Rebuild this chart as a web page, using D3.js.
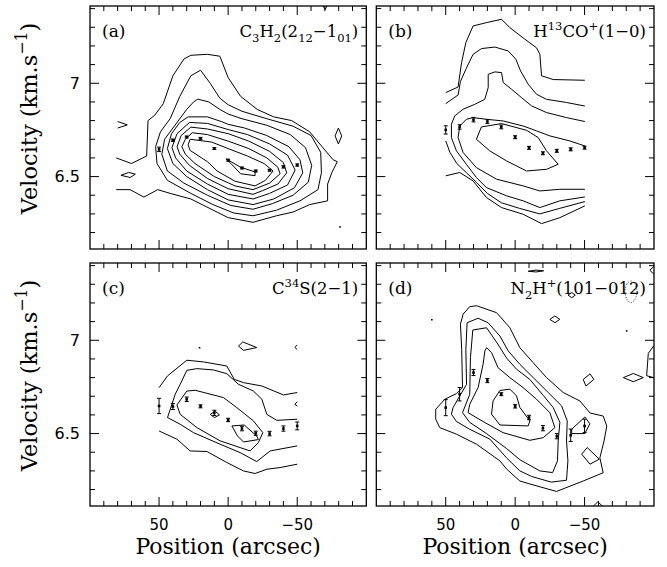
<!DOCTYPE html>
<html><head><meta charset="utf-8">
<script src="https://cdn.jsdelivr.net/npm/d3@7"></script>
<style>html,body{margin:0;padding:0;background:#fff;} svg{display:block;}</style>
</head><body>
<svg id="chart" width="667" height="567"></svg>
<script>
// ================= DATA =================
const positions = [50, 40, 30, 20, 10, 0, -10, -20, -30, -40, -50];

const velA = [6.646, 6.695, 6.712, 6.705, 6.650, 6.588, 6.546, 6.530, 6.534, 6.552, 6.562];
const errA = [0.012, 0.006, 0.005, 0.005, 0.005, 0.005, 0.005, 0.005, 0.005, 0.006, 0.006];
const velB = [6.750, 6.766, 6.805, 6.795, 6.766, 6.711, 6.654, 6.625, 6.638, 6.646, 6.655];
const errB = [0.022, 0.012, 0.012, 0.010, 0.010, 0.008, 0.008, 0.008, 0.008, 0.008, 0.008];
const velC = [6.648, 6.645, 6.684, 6.646, 6.611, 6.573, 6.527, 6.502, 6.500, 6.527, 6.541];
const errC = [0.041, 0.016, 0.012, 0.008, 0.014, 0.009, 0.012, 0.011, 0.012, 0.014, 0.021];
const velD = [6.639, 6.711, 6.827, 6.784, 6.711, 6.646, 6.586, 6.529, 6.486, 6.491, 6.541];
const errD = [0.043, 0.036, 0.016, 0.011, 0.008, 0.009, 0.012, 0.014, 0.014, 0.033, 0.036];

const xTickLabels = [50, 0, -50];
const yTickLabels = [6.5, 7];

// contour polylines in (position arcsec, velocity km/s); closed = loop
const contoursA = [
  {closed:false, pts:[[81,6.60],[70,6.57],[59,6.61],[58,6.80],[53,6.83],[47,6.89],[40,7.04],[32,7.13],[27,7.15],[15,7.155],[6,7.145],[0,7.03],[-9,6.93],[-21,6.86],[-33,6.82],[-46,6.80],[-59,6.74],[-68,6.66],[-76,6.59],[-79,6.58],[-75,6.52],[-72,6.46],[-72,6.37],[-59,6.35],[-47,6.31],[-35,6.29],[-18,6.255],[0,6.28],[27,6.38],[42,6.41],[51,6.43],[61,6.39],[71,6.43],[81,6.43]]},
  {closed:true, pts:[[20,7.07],[13,7.0],[6,6.92],[0,6.885],[-10,6.85],[-28,6.81],[-47,6.77],[-60,6.72],[-67,6.63],[-67.5,6.52],[-65,6.43],[-52,6.37],[-35,6.32],[-18,6.29],[-4,6.305],[11,6.35],[27,6.41],[44,6.48],[51.5,6.57],[52.5,6.66],[49,6.74],[42,6.81],[35,6.93],[27,7.04]]},
  {closed:true, pts:[[22,6.915],[14,6.90],[6,6.86],[0,6.835],[-10,6.81],[-28,6.775],[-45,6.725],[-56,6.655],[-60.5,6.56],[-58,6.47],[-47,6.40],[-32,6.355],[-18,6.325],[-2,6.345],[15,6.40],[32,6.465],[44,6.53],[48,6.62],[46,6.70],[39,6.77],[30,6.86],[25,6.90]]},
  {closed:true, pts:[[29,6.82],[15,6.82],[5,6.795],[0,6.78],[-12,6.76],[-28,6.72],[-44,6.66],[-52,6.59],[-54,6.52],[-48,6.44],[-33,6.38],[-18,6.35],[0,6.375],[15,6.43],[30,6.50],[40,6.57],[44,6.65],[41,6.73],[35,6.79]]},
  {closed:true, pts:[[28,6.79],[15,6.785],[0,6.752],[-14,6.725],[-30,6.675],[-43,6.615],[-48.5,6.535],[-43,6.455],[-30,6.41],[-18,6.38],[0,6.405],[15,6.46],[30,6.53],[38,6.60],[40.7,6.655],[37,6.73]]},
  {closed:true, pts:[[27,6.765],[15,6.755],[0,6.73],[-15,6.69],[-30,6.635],[-40,6.575],[-42.4,6.52],[-36,6.46],[-25,6.425],[-18,6.405],[0,6.435],[15,6.49],[28,6.56],[35,6.62],[37,6.66],[34,6.72]]},
  {closed:true, pts:[[26,6.735],[15,6.725],[0,6.69],[-15,6.65],[-28,6.60],[-36,6.55],[-37.6,6.515],[-30,6.465],[-18,6.43],[-5,6.45],[10,6.50],[24,6.57],[31,6.62],[33.5,6.66],[31,6.70]]},
  {closed:true, pts:[[27.5,6.70],[12,6.685],[0,6.65],[-14,6.61],[-26,6.57],[-32.5,6.53],[-27,6.48],[-19.5,6.45],[-5,6.475],[8,6.53],[15,6.58],[27.5,6.64],[29,6.67]]},
  {closed:true, pts:[[1.5,6.595],[-2,6.57],[-9,6.515],[-19.5,6.505],[-19.5,6.525],[-9,6.55]]},
  {closed:false, pts:[[80,6.795],[73,6.777],[80,6.76]]},
  {closed:true, pts:[[77.6,6.507],[72,6.522],[67.2,6.513],[70.9,6.495]]},
  {closed:true, pts:[[-77.4,6.718],[-79.8,6.76],[-82.2,6.718],[-79.8,6.675]]},
  {closed:false, pts:[[-68.3,7.42],[-70.2,7.395],[-71.9,7.42]]}
];
const dotsA = [[-81, 6.23]];

const contoursB = [
  {closed:false, pts:[[50,6.95],[41.1,6.98],[38.6,7.11],[35.5,7.218],[30.3,7.307],[20.6,7.325],[9.8,7.343],[3.8,7.298],[-7,7.236],[-15.4,7.19],[-17.8,7.155],[-19,7.04],[-27.4,7.02],[-50.2,7.016]]},
  {closed:false, pts:[[50,6.891],[41.1,6.937],[39.4,7.009],[35.5,7.075],[30.3,7.155],[24.2,7.186],[14.6,7.194],[5,7.173],[-0.5,7.129],[-3.9,7.066],[-9.4,6.995],[-15.4,6.941],[-22.6,6.914],[-37,6.897],[-50.2,6.878]]},
  {closed:false, pts:[[-50.2,6.795],[-37,6.816],[-22.6,6.843],[-11.8,6.879],[-4.6,6.923],[2.6,6.968],[8.6,7.004],[9.8,7.057],[14.6,7.061],[19.4,7.048],[19.4,6.977],[21.9,6.914],[29.1,6.887],[37.5,6.861],[43.5,6.825],[45.9,6.78],[45.9,6.709],[42.3,6.638],[35.1,6.566],[27.9,6.495],[20.7,6.441],[6.2,6.397],[-5.8,6.37],[-17.8,6.334],[-32.2,6.37],[-50.2,6.391]]},
  {closed:false, pts:[[-50.2,6.664],[-39.4,6.691],[-25,6.718],[-15.4,6.745],[-5.8,6.771],[8.6,6.798],[20.7,6.807],[30.3,6.816],[35.1,6.807],[39.9,6.771],[41.1,6.709],[37.5,6.629],[27.9,6.548],[13.4,6.486],[-5.8,6.45],[-17.8,6.423],[-32.2,6.432],[-50.2,6.432]]},
  {closed:true, pts:[[27.9,6.70],[24.3,6.766],[9.8,6.784],[-8.2,6.748],[-16.6,6.709],[-22.6,6.638],[-31,6.566],[-22.6,6.539],[-8.2,6.53],[6.2,6.584],[18.3,6.638]]},
  {closed:false, pts:[[50,6.691],[47,6.63],[42,6.57],[35,6.52],[28,6.47],[20,6.41],[10,6.36],[-3,6.33],[-17.8,6.30],[-32.2,6.33],[-50.2,6.366]]},
  {closed:false, pts:[[50,6.504],[39.9,6.522],[30.3,6.477],[20.7,6.388],[9.8,6.334],[-5.8,6.298],[-19,6.248],[-32.2,6.28],[-50.2,6.343]]}
];
const dotsB = [];

const contoursC = [
  {closed:false, pts:[[50,6.746],[43.9,6.809],[29.9,6.893],[17.8,6.884],[0.95,6.862],[-4.4,6.791],[-11.1,6.773],[-24.4,6.755],[-40,6.707],[-50,6.72]]},
  {closed:false, pts:[[50,6.514],[37.1,6.47],[27.5,6.407],[15.4,6.404],[0.95,6.345],[-11.1,6.30],[-19.5,6.286],[-28,6.309],[-37.6,6.318],[-50,6.336]]},
  {closed:false, pts:[[-50,6.577],[-35.2,6.571],[-28,6.603],[-24.4,6.684],[-18.3,6.728],[-7.5,6.764],[0.95,6.821],[10.6,6.841],[22.6,6.848],[29.9,6.839],[34.7,6.764],[38.3,6.711],[43.9,6.586],[34.7,6.55],[25.1,6.505],[5.8,6.443],[-8.7,6.398],[-20.7,6.35],[-30.4,6.407],[-50,6.434]]},
  {closed:true, pts:[[37.1,6.653],[29.9,6.728],[23.8,6.732],[3.4,6.693],[-6.3,6.639],[-18.3,6.568],[-25.1,6.505],[-21.9,6.452],[-15.9,6.407],[5.8,6.461],[22.6,6.532],[34.7,6.603]]},
  {closed:true, pts:[[13,6.603],[9.4,6.62],[6.3,6.60],[9.9,6.586]]},
  {closed:true, pts:[[-2.7,6.541],[-11.6,6.546],[-20.7,6.487],[-21.9,6.468],[-11.1,6.455],[-6.8,6.487]]},
  {closed:true, pts:[[-7.5,6.969],[-10.6,6.991],[-20.7,6.961],[-11.1,6.946]]},
  {closed:false, pts:[[-50,6.975],[-48.3,6.962],[-50,6.95]]},
  {closed:false, pts:[[-50,6.671],[-48.3,6.657],[-50,6.648]]}
];
const dotsC = [[20.7, 6.96]];

const contoursD = [
  {closed:true, pts:[[37.5,7.14],[32.7,7.18],[27.8,7.185],[13.4,7.148],[3.8,7.067],[-3.4,6.96],[-13,6.88],[-22.6,6.80],[-34.6,6.72],[-46.6,6.675],[-54,6.61],[-63.4,6.594],[-66,6.54],[-64,6.46],[-61,6.37],[-63.4,6.29],[-49,6.246],[-29.8,6.19],[-10.6,6.23],[-3.4,6.246],[6.2,6.31],[11,6.354],[27.8,6.443],[42.3,6.497],[54.3,6.532],[57.2,6.577],[57.2,6.63],[50.7,6.684],[42.3,6.714],[37.9,6.746],[38.5,6.95],[39.4,7.086]]},
  {closed:true, pts:[[34.6,7.094],[26.7,7.118],[19.5,7.094],[11,7.023],[5,6.943],[-3.4,6.871],[-13,6.80],[-23.8,6.72],[-33.5,6.648],[-37.5,6.568],[-37,6.46],[-38,6.354],[-37,6.25],[-26,6.24],[-12,6.27],[-3.4,6.30],[6.2,6.37],[18.2,6.47],[32.7,6.523],[42.3,6.565],[45.9,6.604],[44.7,6.64],[35,6.764],[35.5,6.95]]},
  {closed:true, pts:[[30.5,7.055],[20.6,7.067],[13.4,6.99],[6.2,6.905],[-1,6.845],[-10.6,6.79],[-20.2,6.705],[-27.4,6.64],[-32.2,6.56],[-31,6.461],[-30.5,6.354],[-27,6.291],[-17.8,6.30],[-3.4,6.36],[6.2,6.42],[20.6,6.50],[32.7,6.56],[37.9,6.612],[32.7,6.71],[32.2,6.907]]},
  {closed:true, pts:[[20.6,6.96],[17,6.934],[12.3,6.853],[3.8,6.80],[-5.8,6.746],[-15.4,6.684],[-25,6.612],[-28.6,6.532],[-20.2,6.478],[-10.6,6.464],[8.7,6.505],[21.8,6.559],[33.9,6.612],[32.7,6.657],[26.7,6.746],[23.1,6.871],[21.8,6.943]]},
  {closed:true, pts:[[11,6.731],[3.8,6.738],[-1,6.702],[-3.4,6.64],[-10.6,6.568],[-9.4,6.541],[11,6.546],[17,6.604],[15.9,6.675]]},
  {closed:true, pts:[[-40.7,6.523],[-50.2,6.589],[-53.8,6.553],[-50.2,6.50],[-40.7,6.50]]},
  {closed:true, pts:[[-47.9,6.39],[-51.9,6.425],[-60.6,6.363],[-53.9,6.336]]},
  {closed:true, pts:[[-9.4,7.37],[-15,7.376],[-20.5,7.372],[-15,7.366]]},
  {closed:true, pts:[[-38.1,7.242],[-40.7,7.256],[-43.3,7.242],[-40.7,7.228]]},
  {closed:true, pts:[[-25,7.112],[-28.6,7.13],[-32.2,7.112],[-28.6,7.094]]},
  {closed:true, pts:[[-49,6.79],[-53.9,6.82],[-56.7,6.79],[-51,6.755]]},
  {closed:true, pts:[[-77.9,6.80],[-85.1,6.822],[-92.3,6.80],[-85.1,6.778]]},
  {closed:false, pts:[[-99.8,6.97],[-95.9,6.93],[-94.7,6.81],[-99.8,6.80]]},
  {closed:false, pts:[[-99.8,7.395],[-97,7.375],[-99.8,7.355]]},
  {closed:false, pts:[[-55,6.10],[-59.5,6.135],[-64.5,6.10]]}
];
const dashedD = [[-83.4,7.318],[-80.4,7.30],[-79.1,7.26],[-80.4,7.22],[-83.4,7.202],[-86.4,7.22],[-87.7,7.26],[-86.4,7.30]];
const dotsD = [[60, 7.11], [-80.3, 7.05]];

const titleA = [["C"],["3","sub"],["H"],["2","sub"],["(2"],["12","sub"],["\u22121"],["01","sub"],[")"]];
const titleB = [["H"],["13","sup"],["CO"],["+","sup"],["(1\u22120)"]];
const titleC = [["C"],["34","sup"],["S(2\u22121)"]];
const titleD = [["N"],["2","sub"],["H"],["+","sup"],["(101\u2212012)"]];

// ================= LAYOUT =================
const svg = d3.select("#chart");
svg.append("rect").attr("width",667).attr("height",567).attr("fill","#fff");

const xDomain = [100, -100];
const yDomain = [6.112, 7.414];
const panels = [
  {tag:"(a)", title:titleA, vel:velA, err:errA, cont:contoursA, dots:dotsA, dashed:null, L:90, R:366.3, T:6, B:249, bottomRow:false, leftCol:true},
  {tag:"(b)", title:titleB, vel:velB, err:errB, cont:contoursB, dots:dotsB, dashed:null, L:376.3, R:654, T:6, B:249, bottomRow:false, leftCol:false},
  {tag:"(c)", title:titleC, vel:velC, err:errC, cont:contoursC, dots:dotsC, dashed:null, L:90, R:366.3, T:263, B:506, bottomRow:true, leftCol:true},
  {tag:"(d)", title:titleD, vel:velD, err:errD, cont:contoursD, dots:dotsD, dashed:dashedD, L:376.3, R:654, T:263, B:506, bottomRow:true, leftCol:false}
];

const serif = "'DejaVu Serif', serif";
const sans = "'DejaVu Sans', sans-serif";

function addRich(textSel, parts, size){
  let cur = 0;
  parts.forEach(([t, m]) => {
    const target = m === "sub" ? size*0.32 : (m === "sup" ? -size*0.45 : 0);
    textSel.append("tspan").attr("dy", (target - cur).toFixed(2))
      .attr("font-size", m ? size*0.7 : size).text(t);
    cur = target;
  });
}

panels.forEach((p, i) => {
  const x = d3.scaleLinear().domain(xDomain).range([p.L, p.R]);
  const y = d3.scaleLinear().domain(yDomain).range([p.B, p.T]);
  const g = svg.append("g");
  const clipId = "clip" + i;
  svg.append("clipPath").attr("id", clipId).append("rect")
    .attr("x", p.L).attr("y", p.T).attr("width", p.R - p.L).attr("height", p.B - p.T);

  const cg = g.append("g").attr("clip-path", `url(#${clipId})`);
  const lineOpen = d3.line().x(d => x(d[0])).y(d => y(d[1]));
  const lineClosed = d3.line().x(d => x(d[0])).y(d => y(d[1])).curve(d3.curveLinearClosed);

  cg.selectAll("path.c").data(p.cont).join("path")
    .attr("class","c")
    .attr("d", d => d.closed ? lineClosed(d.pts) : lineOpen(d.pts))
    .attr("fill","none").attr("stroke","#000").attr("stroke-width",1)
    .attr("stroke-linejoin","round");

  if (p.dashed) {
    cg.append("path")
      .attr("d", d3.line().x(d => x(d[0])).y(d => y(d[1])).curve(d3.curveCardinalClosed)(p.dashed))
      .attr("fill","none").attr("stroke","#000").attr("stroke-width",0.8)
      .attr("stroke-dasharray","1,1.6");
  }

  cg.selectAll("rect.dot").data(p.dots).join("rect")
    .attr("class","dot")
    .attr("x", d => x(d[0]) - 0.8).attr("y", d => y(d[1]) - 0.8)
    .attr("width",1.6).attr("height",1.6).attr("fill","#000");

  // error bars and points
  const pts = positions.map((pos, k) => ({pos, v:p.vel[k], e:p.err[k]}));
  const eb = g.append("g");
  pts.forEach(d => {
    const cx = x(d.pos), y1 = y(d.v + d.e), y2 = y(d.v - d.e);
    eb.append("line").attr("x1",cx).attr("x2",cx).attr("y1",y1).attr("y2",y2)
      .attr("stroke","#000").attr("stroke-width",1);
    [y1, y2].forEach(yy => eb.append("line").attr("x1",cx-2).attr("x2",cx+2)
      .attr("y1",yy).attr("y2",yy).attr("stroke","#000").attr("stroke-width",1));
    eb.append("rect").attr("x",cx-1.3).attr("y",y(d.v)-1.3).attr("width",2.6).attr("height",2.6).attr("fill","#000");
  });

  // ticks
  const tg = g.append("g").attr("stroke","#000").attr("stroke-width",1);
  const xMinor = d3.range(-90, 91, 10);
  xMinor.forEach(t => {
    const len = xTickLabels.includes(t) ? 9 : 5;
    const xx = x(t);
    tg.append("line").attr("x1",xx).attr("x2",xx).attr("y1",p.B).attr("y2",p.B-len);
    tg.append("line").attr("x1",xx).attr("x2",xx).attr("y1",p.T).attr("y2",p.T+len);
  });
  const yMinor = d3.range(62, 75, 1).map(v => v/10);
  yMinor.forEach(t => {
    const len = yTickLabels.some(l => Math.abs(l - t) < 1e-6) ? 9 : 5;
    const yy = y(t);
    tg.append("line").attr("x1",p.L).attr("x2",p.L+len).attr("y1",yy).attr("y2",yy);
    tg.append("line").attr("x1",p.R).attr("x2",p.R-len).attr("y1",yy).attr("y2",yy);
  });

  // frame
  g.append("rect").attr("x",p.L).attr("y",p.T).attr("width",p.R-p.L).attr("height",p.B-p.T)
    .attr("fill","none").attr("stroke","#000").attr("stroke-width",1.3);

  // tag and title
  g.append("text").attr("x", p.L + 12).attr("y", p.T + 31)
    .attr("font-family", serif).attr("font-size",17).text(p.tag);
  const tt = g.append("text").attr("x", p.R - 8).attr("y", p.T + 31)
    .attr("text-anchor","end").attr("font-family", serif);
  addRich(tt, p.title, 16.5);

  // y tick labels
  if (p.leftCol) {
    yTickLabels.forEach(v => {
      g.append("text").attr("x", p.L - 10).attr("y", y(v)).attr("dy","0.36em")
        .attr("text-anchor","end").attr("font-family", sans).attr("font-size",16)
        .text(String(v));
    });
    const yl = g.append("text")
      .attr("transform", `translate(37,${(p.T+p.B)/2 - 9}) rotate(-90)`)
      .attr("text-anchor","middle").attr("font-family", serif);
    addRich(yl, [["Velocity (km.s"],["\u22121","sup"],[")"]], 22.5);
  }
  // x tick labels
  if (p.bottomRow) {
    xTickLabels.forEach(v => {
      g.append("text").attr("x", x(v)).attr("y", 530)
        .attr("text-anchor","middle").attr("font-family", sans).attr("font-size",15)
        .text(v < 0 ? "\u2212" + Math.abs(v) : String(v));
    });
    g.append("text").attr("x", x(0)).attr("y", 554)
      .attr("text-anchor","middle").attr("font-family", serif).attr("font-size",22)
      .text("Position (arcsec)");
  }
});
</script>
</body></html>
